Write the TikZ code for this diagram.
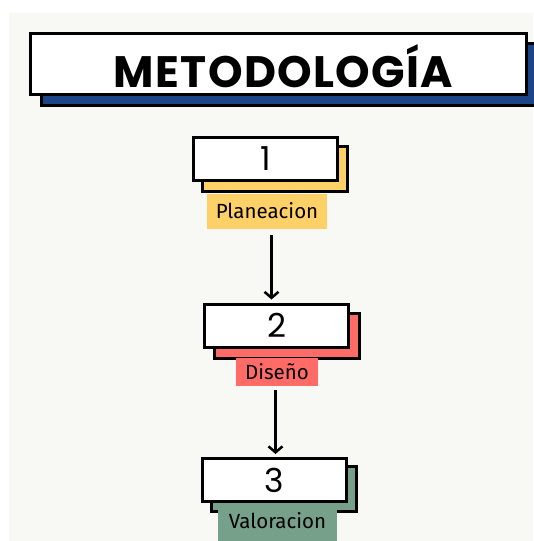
\documentclass[tikz,border=0pt]{standalone}
\usepackage{fontspec}
\usetikzlibrary{arrows.meta}
\newfontfamily\titlefont[LetterSpace=3]{Poppins}
\newfontfamily\digitfont{Poppins}
\newfontfamily\labelfont{Fira Sans}
\definecolor{bgcol}{HTML}{F8F8F4}
\definecolor{blueshadow}{HTML}{1C4587}
\definecolor{yel}{HTML}{FDD068}
\definecolor{redl}{HTML}{FF6B66}
\definecolor{grn}{HTML}{76A08A}
\tikzset{
  whitebox/.style={draw=black, line width=3pt, fill=white, minimum width=144pt, minimum height=43pt, inner sep=0pt, font=\digitfont\fontsize{33}{33}\selectfont},
  shadowbox/.style={draw=black, line width=3pt, minimum width=145pt, minimum height=45pt, inner sep=0pt},
  labelbox/.style={inner sep=0pt, font=\labelfont\fontsize{20.5}{20.5}\selectfont},
  arr/.style={line width=2.5pt, -{Straight Barb[length=6pt,width=14pt,line width=2.5pt]}}
}
\begin{document}
\begin{tikzpicture}[x=1pt,y=-1pt]
\useasboundingbox (0,0) rectangle (533,541);
\fill[white] (0,0) rectangle (533,541);
\fill[bgcol] (9,13) rectangle (533,541);
% title
\node[draw=black, line width=3pt, fill=blueshadow, minimum width=500pt, minimum height=62pt, inner sep=0pt] (ts) at (291,74.5) {};
\node[draw=black, line width=3pt, fill=white, minimum width=496pt, minimum height=61pt, inner sep=0pt] (title) at (278,64) {};
\node[font=\titlefont\bfseries\fontsize{44}{44}\selectfont] (tt) at (283.5,66) {METODOLOGÍA};
% step 1
\node[shadowbox, fill=yel] (s1) at (275,169) {};
\node[whitebox] (b1) at (265.5,159) {1};
\node[labelbox, fill=yel, minimum width=120pt, minimum height=35pt] (l1) at (267,211) {Planeacion};
% step 2
\node[shadowbox, fill=redl] (s2) at (286.5,335.5) {};
\node[whitebox] (b2) at (276.5,325.5) {2};
\node[labelbox, fill=redl, minimum width=82pt, minimum height=28pt] (l2) at (277,372) {Diseño};
% step 3
\node[shadowbox, fill=grn] (s3) at (283.5,489) {};
\node[whitebox] (b3) at (274.5,480) {3};
\node[labelbox, fill=grn, minimum width=119pt, minimum height=42pt, anchor=north] (l3) at (277.5,503) {};
\node[labelbox] (l3t) at (277.5,521) {Valoracion};
% arrows
\coordinate (a1s) at (271.5,235);
\coordinate (a2s) at (275.5,390);
\draw[arr, shorten >=3pt] (a1s) -- (a1s |- b2.north);
\draw[arr, shorten >=3pt] (a2s) -- (a2s |- b3.north);
\end{tikzpicture}
\end{document}
